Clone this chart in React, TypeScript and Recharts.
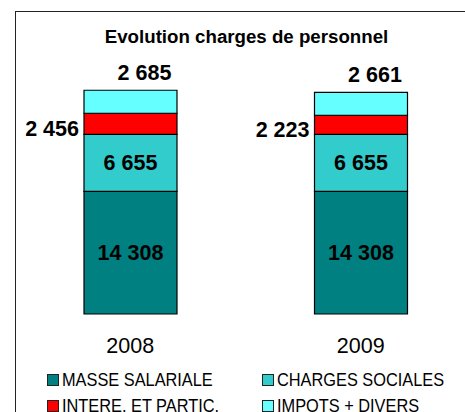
import { BarChart, Bar, XAxis, YAxis, Legend, LabelList } from 'recharts';

const years = ['2008', '2009'];
const masseSalariale = [14308, 14308];
const chargesSociales = [6655, 6655];
const intereParticip = [2456, 2223];
const impotsDivers = [2685, 2661];

const seriesNames = ['MASSE SALARIALE', 'CHARGES SOCIALES', 'INTERE. ET PARTIC.', 'IMPOTS + DIVERS'];
const seriesColors = ['#008080', '#33CCCC', '#FF0000', '#66FFFF'];

const data = years.map((year, i) => ({
  year,
  masse: masseSalariale[i],
  charges: chargesSociales[i],
  intere: intereParticip[i],
  impots: impotsDivers[i],
}));

const FONT = '"Liberation Sans", Arial, Helvetica, sans-serif';

const fmt = (v: any) => String(v).replace(/\B(?=(\d{3})+(?!\d))/g, ' ');

function TopLabel(props: any) {
  const { x, y, width, value } = props;
  return (
    <text x={x + width / 2 + 14} y={y - 10} textAnchor="middle" fontSize={21.5} fontWeight="bold" fill="#000" fontFamily={FONT}>
      {fmt(value)}
    </text>
  );
}

function SideLabel(props: any) {
  const { x, y, height, value } = props;
  return (
    <text x={x - 5} y={y + height / 2 + 12} textAnchor="end" fontSize={21.5} fontWeight="bold" fill="#000" fontFamily={FONT}>
      {fmt(value)}
    </text>
  );
}

function LegendBox() {
  const cols = [47, 262];
  const rows = [26, 51.5];
  return (
    <div style={{ position: 'relative', width: 465, height: 58, fontFamily: FONT, fontSize: 19, color: '#000' }}>
      {seriesNames.map((name, i) => {
        const left = cols[i % 2];
        const mid = rows[Math.floor(i / 2)];
        return (
          <div key={name}>
            <div
              style={{
                position: 'absolute',
                left,
                top: mid - 6,
                width: 12,
                height: 12,
                boxSizing: 'border-box',
                border: '1.5px solid #222',
                background: seriesColors[i],
              }}
            />
            <div
              style={{
                position: 'absolute',
                left: left + 15,
                top: mid - 10,
                lineHeight: '20px',
                whiteSpace: 'nowrap',
                transform: 'scaleX(0.86)',
                transformOrigin: 'left center',
              }}
            >
              {name}
            </div>
          </div>
        );
      })}
    </div>
  );
}

export default function App() {
  return (
    <div style={{ position: 'relative', width: 465, height: 412, overflow: 'hidden', background: '#fff' }}>
      <style>{`body{margin:0}`}</style>
      <div
        style={{
          position: 'absolute',
          left: 15,
          top: 11,
          width: 480,
          height: 440,
          border: '1px solid #222',
        }}
      />
      <div
        style={{
          position: 'absolute',
          left: 0,
          width: 493,
          top: 28,
          textAlign: 'center',
          fontFamily: FONT,
          fontWeight: 'bold',
          fontSize: 18.7,
          lineHeight: '18.7px',
          color: '#000',
        }}
      >
        Evolution charges de personnel
      </div>
      <div style={{ position: 'absolute', left: 0, top: 0 }}>
        <BarChart width={465} height={412} data={data} margin={{ top: 74, right: -11, left: 15, bottom: 0 }}>
          <XAxis
            dataKey="year"
            axisLine={false}
            tickLine={false}
            tickSize={0}
            tickMargin={24}
            height={40}
            tick={{ fontSize: 21.5, fill: '#000', fontFamily: FONT }}
          />
          <YAxis hide domain={[0, 28000]} />
          <Legend
            verticalAlign="bottom"
            wrapperStyle={{ left: 0, width: 465, bottom: 0 }}
            content={() => <LegendBox />}
          />
          <Bar dataKey="masse" name={seriesNames[0]} stackId="a" fill={seriesColors[0]} stroke="#000" strokeWidth={1.2} barSize={93} isAnimationActive={false}>
            <LabelList dataKey="masse" position="center" formatter={fmt} fontSize={21.5} fontWeight="bold" fill="#000" fontFamily={FONT} />
          </Bar>
          <Bar dataKey="charges" name={seriesNames[1]} stackId="a" fill={seriesColors[1]} stroke="#000" strokeWidth={1.2} barSize={93} isAnimationActive={false}>
            <LabelList dataKey="charges" position="center" formatter={fmt} fontSize={21.5} fontWeight="bold" fill="#000" fontFamily={FONT} />
          </Bar>
          <Bar dataKey="intere" name={seriesNames[2]} stackId="a" fill={seriesColors[2]} stroke="#000" strokeWidth={1.2} barSize={93} isAnimationActive={false}>
            <LabelList dataKey="intere" content={<SideLabel />} />
          </Bar>
          <Bar dataKey="impots" name={seriesNames[3]} stackId="a" fill={seriesColors[3]} stroke="#000" strokeWidth={1.2} barSize={93} isAnimationActive={false}>
            <LabelList dataKey="impots" content={<TopLabel />} />
          </Bar>
        </BarChart>
      </div>
    </div>
  );
}
